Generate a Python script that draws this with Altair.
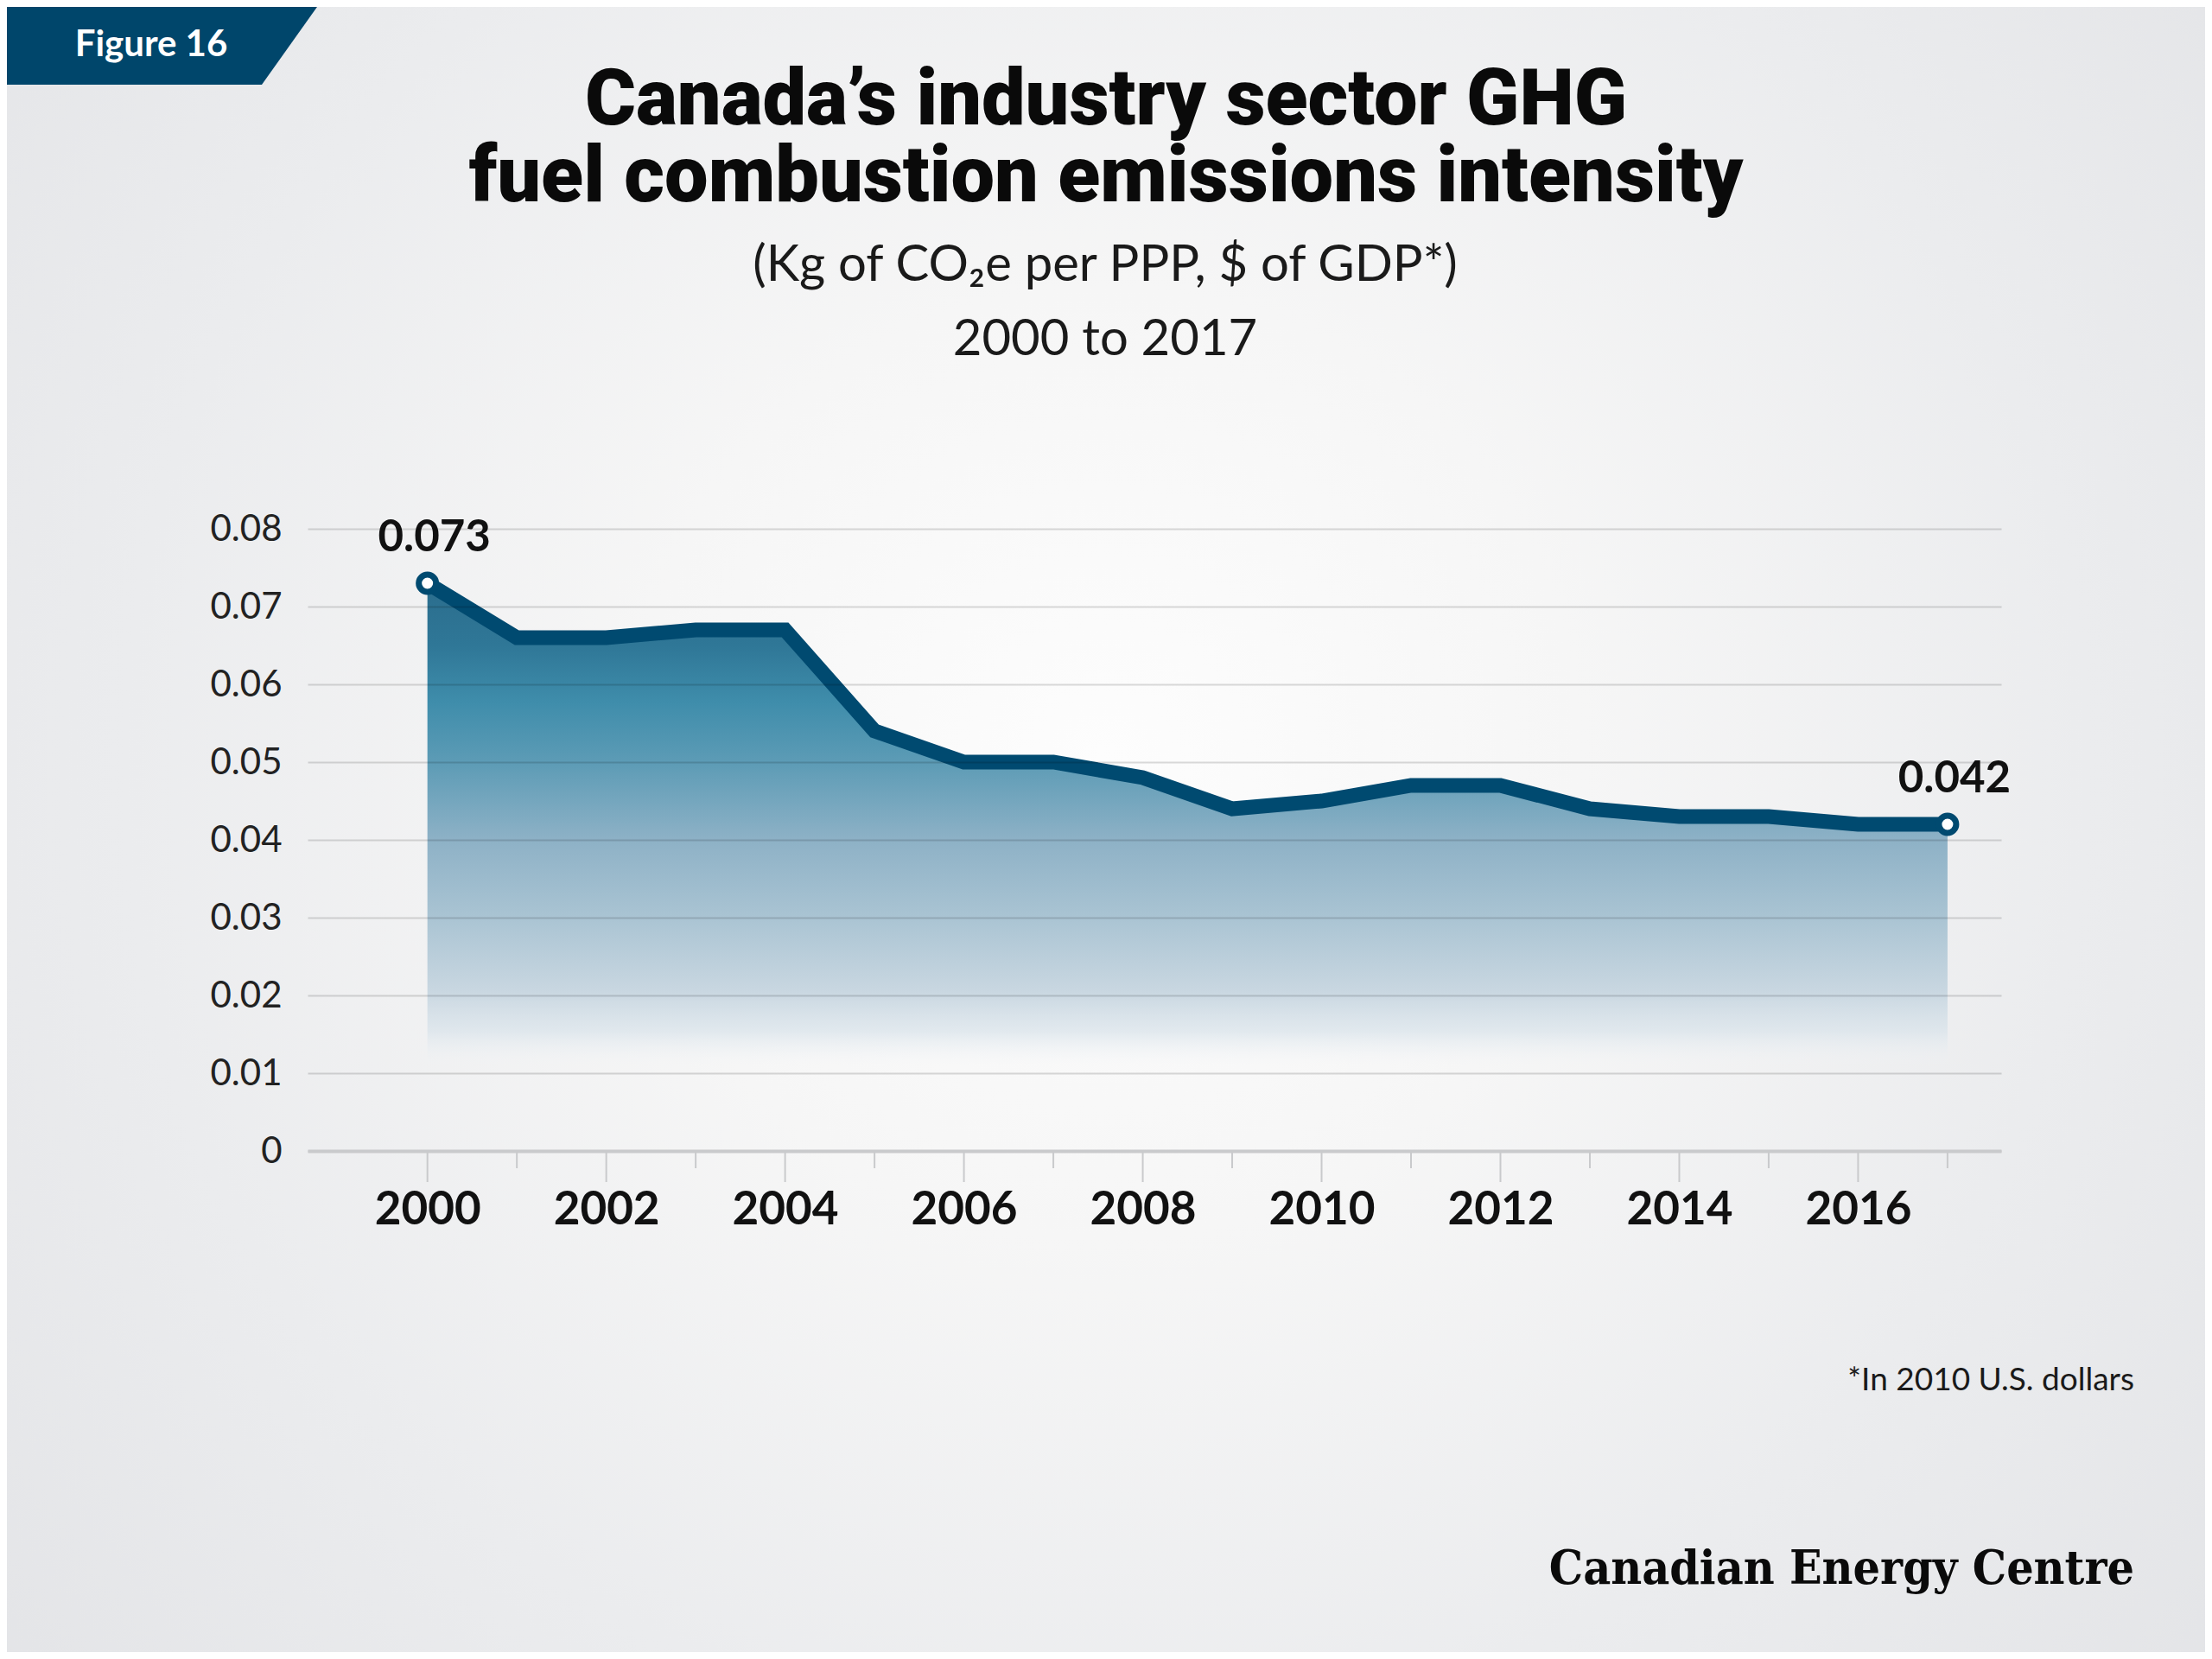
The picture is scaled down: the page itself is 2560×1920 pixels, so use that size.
import altair as alt
import pandas as pd

# ---------------- data ----------------
years = list(range(2000, 2018))
intensity = [0.073, 0.066, 0.066, 0.067, 0.067, 0.054, 0.050, 0.050, 0.048,
             0.044, 0.045, 0.047, 0.047, 0.044, 0.043, 0.043, 0.042, 0.042]
y_ticks = [0, 0.01, 0.02, 0.03, 0.04, 0.05, 0.06, 0.07, 0.08]
labelled_years = [2000, 2017]

figure_label = "Figure 16"
title_lines = ["Canada\u2019s industry sector GHG", "fuel combustion emissions intensity"]
subtitle_lines = ["(Kg of CO\u2082e per PPP, $ of GDP*)", "2000 to 2017"]
footnote = "*In 2010 U.S. dollars"
brand = "Canadian Energy Centre"

df = pd.DataFrame({"year": years, "value": intensity})
ticks_df = pd.DataFrame({"year": years, "major": [y % 2 == 0 for y in years]})
one = alt.Data(values=[{"k": 1}])

# ---------------- layout ----------------
W, H = 1960, 720
PAD_L, PAD_T = 348, 604
CANVAS_W, CANVAS_H = 2544, 1904
NAVY = "#004a70"
SANS = "Lato"

x_scale = alt.Scale(domain=[1998.66, 2017.6], nice=False, zero=False)
y_scale = alt.Scale(domain=[0, 0.08], nice=False, zero=True)

x_axis = alt.Axis(
    values=years, format="d",
    labelExpr="datum.value % 2 === 0 ? datum.label : ''",
    labelFont=SANS, labelFontWeight="bold", labelFontSize=53, labelColor="#111111",
    labelPadding=42, labelOverlap=False, labelFlush=False,
    ticks=False, grid=False,
    domainColor="#c9cacc", domainWidth=4, title=None, zindex=1,
)
y_axis = alt.Axis(
    values=y_ticks,
    labelExpr="datum.value === 0 ? '0' : format(datum.value, '.2f')",
    labelFont=SANS, labelFontSize=42, labelColor="#222222", labelPadding=30,
    domain=False, ticks=False, grid=True,
    gridColor="#000000", gridOpacity=0.14, gridWidth=2, title=None, zindex=1,
)

X = alt.X("year:Q", scale=x_scale, axis=x_axis)
Y = alt.Y("value:Q", scale=y_scale, axis=y_axis)

# ---------------- background ----------------
bg = alt.Chart(one).mark_rect(
    fill=alt.RadialGradient(
        gradient="radial",
        stops=[
            alt.GradientStop(offset=0, color="#fdfdfd"),
            alt.GradientStop(offset=0.3, color="#f6f6f6"),
            alt.GradientStop(offset=0.62, color="#ebecee"),
            alt.GradientStop(offset=1, color="#e1e2e5"),
        ],
        x1=0.5, y1=0.47, r1=0, x2=0.5, y2=0.47, r2=0.72,
    )
).encode(
    x=alt.value(-PAD_L), x2=alt.value(CANVAS_W - PAD_L),
    y=alt.value(-PAD_T), y2=alt.value(CANVAS_H - PAD_T),
)

# ---------------- data marks ----------------
area = alt.Chart(df).mark_area(
    color=alt.LinearGradient(
        gradient="linear",
        stops=[
            alt.GradientStop(offset=0, color="#2b6d8d"),
            alt.GradientStop(offset=0.11, color="#2f7797"),
            alt.GradientStop(offset=0.21, color="#3f8dab"),
            alt.GradientStop(offset=0.32, color="#5e9cb6"),
            alt.GradientStop(offset=0.45, color="#8db1c6"),
            alt.GradientStop(offset=0.59, color="#aac4d3"),
            alt.GradientStop(offset=0.72, color="#c9d7e1"),
            alt.GradientStop(offset=0.79, color="rgba(218,228,235,0.75)"),
            alt.GradientStop(offset=0.85, color="rgba(240,243,246,0)"),
            alt.GradientStop(offset=1, color="rgba(240,243,246,0)"),
        ],
        x1=0, x2=0, y1=0, y2=1,
    )
).encode(x=X, y=Y)

line = alt.Chart(df).mark_line(color=NAVY, strokeWidth=17).encode(x=X, y=Y)

major_ticks = alt.Chart(ticks_df).transform_filter("datum.major").mark_rule(
    color="#c9cacc", strokeWidth=2
).encode(x=X, y=alt.value(H + 2), y2=alt.value(H + 36))
minor_ticks = alt.Chart(ticks_df).transform_filter("!datum.major").mark_rule(
    color="#c9cacc", strokeWidth=2
).encode(x=X, y=alt.value(H + 2), y2=alt.value(H + 20))

ends = alt.Chart(df).transform_filter(
    alt.FieldOneOfPredicate(field="year", oneOf=labelled_years)
)
points = ends.mark_circle(
    size=400, fill="white", stroke=NAVY, strokeWidth=7, opacity=1
).encode(x=X, y=Y)
labels = ends.mark_text(
    font=SANS, fontWeight="bold", fontSize=51, color="#111111",
    baseline="middle", dy=-52, dx=8,
).encode(x=X, y=Y, text=alt.Text("value:Q", format=".3f"))

# ---------------- banner & texts ----------------
banner = alt.Chart(one).mark_point(
    shape="M-1,-0.25L0.9944,-0.25L0.6389,0.25L-1,0.25Z",
    size=129600, filled=True, color="#00466b", opacity=1, strokeWidth=0,
).encode(x=alt.value(180 - PAD_L), y=alt.value(45 - PAD_T))


def txt(s, x, y, size, weight="normal", font=SANS, color="#111111", align="center",
        line_height=None):
    props = dict(text=s, font=font, fontSize=size, fontWeight=weight, color=color,
                 align=align, baseline="alphabetic")
    if line_height is not None:
        props["lineHeight"] = line_height
    return alt.Chart(one).mark_text(**props).encode(x=alt.value(x), y=alt.value(y))


texts = [
    txt(figure_label, 175 - 8 - PAD_L, 65 - 8 - PAD_T, 42, "bold", color="#ffffff"),
    txt(title_lines, 1280 - 8 - PAD_L, 144 - 8 - PAD_T, 90, 900, font="Roboto",
        color="#0a0a0a", line_height=89),
    txt(subtitle_lines[0], 1279 - 8 - PAD_L, 325 - 8 - PAD_T, 58, "normal", color="#1a1a1a"),
    txt(subtitle_lines[1], 1279 - 8 - PAD_L, 411 - 8 - PAD_T, 58, "normal", color="#1a1a1a"),
    txt(footnote, 2470 - 8 - PAD_L, 1609 - 8 - PAD_T, 37, "normal", color="#1a1a1a", align="right"),
    txt(brand, 2470 - 8 - PAD_L, 1833 - 8 - PAD_T, 55, "bold", font="DejaVu Serif Condensed",
        color="#0a0a0a", align="right"),
]

chart = alt.layer(
    bg, area, line, major_ticks, minor_ticks, points, labels, banner, *texts
).properties(
    width=W, height=H,
    autosize=alt.AutoSizeParams(type="none"),
    padding={"left": PAD_L, "top": PAD_T, "right": CANVAS_W - PAD_L - W,
             "bottom": CANVAS_H - PAD_T - H},
    background="#e6e7e9",
).configure_view(strokeWidth=0)

chart.save("out.html", embed_options={"renderer": "svg", "actions": False})
